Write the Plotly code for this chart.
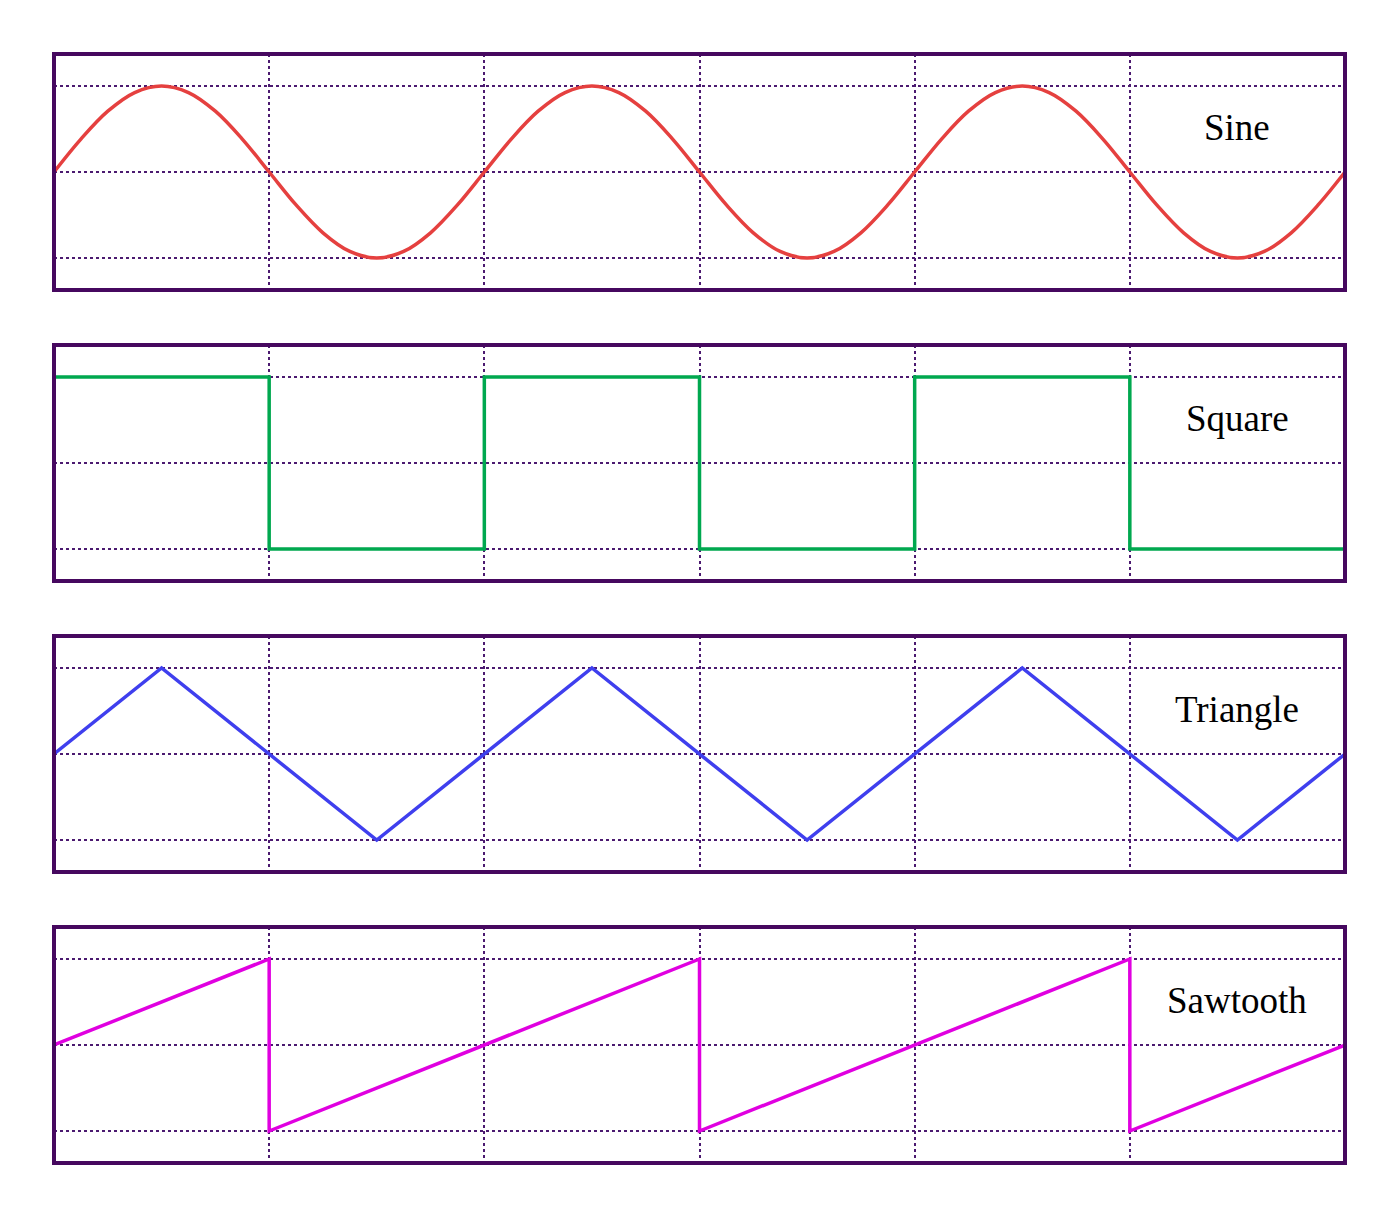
import plotly.graph_objects as go

# ---- data ----
x_sine = [i * 0.125 for i in range(49)]
sine_vals = [0, 0.383, 0.707, 0.924, 1, 0.924, 0.707, 0.383,
             0, -0.383, -0.707, -0.924, -1, -0.924, -0.707, -0.383,
             0, 0.383, 0.707, 0.924, 1, 0.924, 0.707, 0.383,
             0, -0.383, -0.707, -0.924, -1, -0.924, -0.707, -0.383,
             0, 0.383, 0.707, 0.924, 1, 0.924, 0.707, 0.383,
             0, -0.383, -0.707, -0.924, -1, -0.924, -0.707, -0.383,
             0]

x_square = [0, 1, 1, 2, 2, 3, 3, 4, 4, 5, 5, 6]
square_vals = [1, 1, -1, -1, 1, 1, -1, -1, 1, 1, -1, -1]

x_triangle = [0, 0.5, 1.5, 2.5, 3.5, 4.5, 5.5, 6]
triangle_vals = [0, 1, -1, 1, -1, 1, -1, 0]

x_saw = [0, 1, 1, 3, 3, 5, 5, 6]
saw_vals = [0, 1, -1, 1, -1, 1, -1, 0]

labels = ["Sine", "Square", "Triangle", "Sawtooth"]
colors = ["#E5403F", "#00A84F", "#3F3FEE", "#E000E0"]
xs = [x_sine, x_square, x_triangle, x_saw]
ys = [sine_vals, square_vals, triangle_vals, saw_vals]
x_grid = [1, 2, 3, 4, 5]
y_grid = [-1, 0, 1]

# ---- layout ----
W, H = 1400, 1206
top, bottom, left, right = 46, 51, 46, 63
ph = H - top - bottom
# panel edges in page px (page has 8px body offset)
panels_px = [(54, 290), (345, 581), (636, 872), (927, 1163)]
border = "#46085F"
grid_c = "#4B1A70"

fig = go.Figure()
layout = dict(width=W, height=H, margin=dict(l=left, r=right, t=top, b=bottom),
              plot_bgcolor="white", paper_bgcolor="white", showlegend=False)
shapes, annotations = [], []
base = 8 + top  # page y of plot top
for i in range(4):
    n = "" if i == 0 else str(i + 1)
    t_px, b_px = panels_px[i]
    dom = [1 - (b_px - base) / ph, 1 - (t_px - base) / ph]
    dom = [max(0, min(1, d)) for d in dom]
    fig.add_trace(go.Scatter(x=xs[i], y=ys[i], mode="lines",
                             line=dict(color=colors[i], width=3.5,
                                       shape="spline" if i == 0 else "linear",
                                       smoothing=1.0),
                             xaxis="x" + n, yaxis="y" + n, hoverinfo="skip"))
    layout["xaxis" + n] = dict(domain=[0, 1], range=[0, 6], anchor="y" + n,
                               tickvals=x_grid, showticklabels=False,
                               showgrid=True, gridcolor=grid_c, griddash="dot",
                               gridwidth=1.8, zeroline=False, showline=False,
                               ticks="")
    layout["yaxis" + n] = dict(domain=dom, range=[-1.372, 1.372], anchor="x" + n,
                               tickvals=y_grid, showticklabels=False,
                               showgrid=True, gridcolor=grid_c, griddash="dot",
                               gridwidth=1.8, zeroline=False, showline=False,
                               ticks="")
    shapes.append(dict(type="rect", xref="x" + n + " domain", yref="y" + n + " domain",
                       x0=0, x1=1, y0=0, y1=1, line=dict(color=border, width=4),
                       layer="above"))
    annotations.append(dict(text=labels[i], x=5.5, y=0.52, xref="x" + n, yref="y" + n,
                            showarrow=False,
                            font=dict(family="Liberation Serif", size=37, color="black")))
layout["shapes"] = shapes
layout["annotations"] = annotations
fig.update_layout(**layout)
fig.write_html("out.html")
